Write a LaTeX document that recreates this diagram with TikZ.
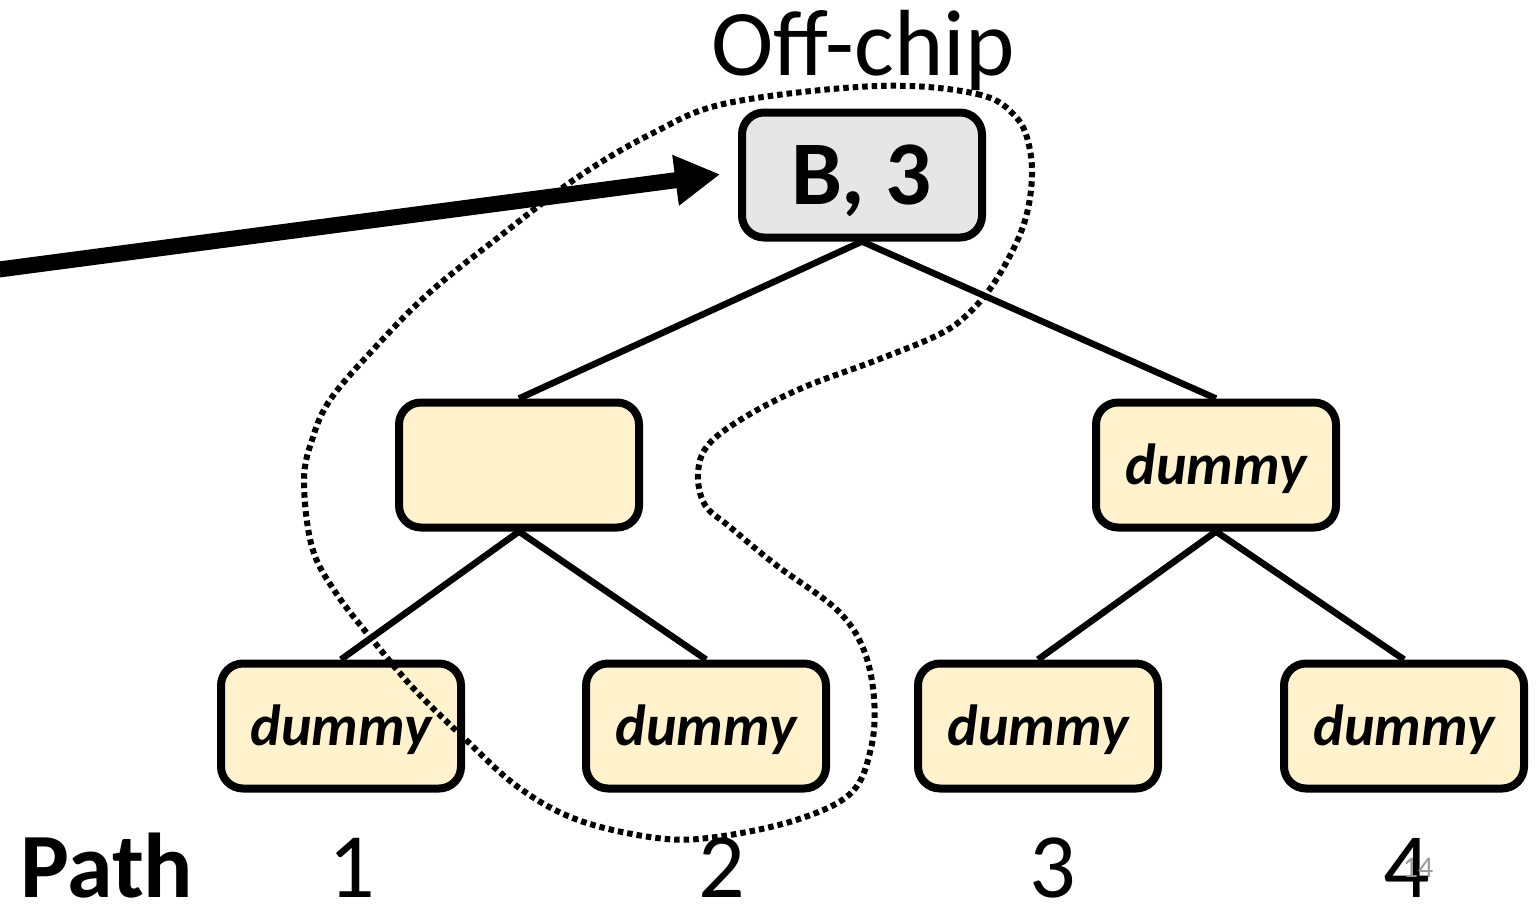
\documentclass[tikz,border=0pt]{standalone}
\usepackage{fontspec}
\setmainfont{Carlito}
\usetikzlibrary{arrows.meta}
\definecolor{rootfill}{HTML}{E6E6E6}
\definecolor{bucketfill}{HTML}{FFF2CC}
\definecolor{pagenum}{HTML}{9A9A9A}
\begin{document}
\begin{tikzpicture}[x=1pt,y=-1pt,
  bucket/.style={draw=black, line width=8pt, rounded corners=22pt, fill=bucketfill,
    minimum width=240pt, minimum height=125pt, inner sep=0pt,
    font=\fontsize{58}{58}\selectfont\bfseries\itshape, text height=38pt, text depth=0pt},
  rootbucket/.style={bucket, fill=rootfill,
    font=\fontsize{91}{91}\selectfont\bfseries, text height=58pt},
  treeedge/.style={line width=6.5pt},
  leaflabel/.style={anchor=base, inner sep=0pt, font=\fontsize{92}{92}\selectfont},
  pathloop/.style={line width=6pt, dash pattern=on 5.5pt off 4pt},
  fetch/.style={line width=16pt, -{Triangle[length=45pt,width=48pt]}, shorten >=18pt}
]
\useasboundingbox (0,0) rectangle (1539,903);

% tree of buckets
\node[rootbucket] (root) at (862,175) {B, 3};
\node[bucket] (midL) at (519,465) {};
\node[bucket] (midR) at (1216,465) {dummy};
\node[bucket] (leaf1) at (341,726) {dummy};
\node[bucket] (leaf2) at (706,726) {dummy};
\node[bucket] (leaf3) at (1038,726) {dummy};
\node[bucket] (leaf4) at (1404,726) {dummy};

\draw[treeedge] (root.south) -- (midL.north);
\draw[treeedge] (root.south) -- (midR.north);
\draw[treeedge] (midL.south) -- (leaf1.north);
\draw[treeedge] (midL.south) -- (leaf2.north);
\draw[treeedge] (midR.south) -- (leaf3.north);
\draw[treeedge] (midR.south) -- (leaf4.north);

% captions
\node[anchor=base, inner sep=0pt, font=\fontsize{94}{94}\selectfont] (offchip) at (863,75) {Off-chip};
\node[leaflabel, anchor=base west, font=\fontsize{92}{92}\selectfont\bfseries] (pathword) at (20,897) {Path};
\node[leaflabel] (p1) at (352,897) {1};
\node[leaflabel] (p2) at (722,897) {2};
\node[leaflabel] (p3) at (1053,897) {3};
\node[leaflabel] (p4) at (1407,897) {4};
\node[anchor=base, inner sep=0pt, text=pagenum, font=\fontsize{30}{30}\selectfont] (slideno) at (1418,877) {14};

% path from the root down to leaf 2
\draw[pathloop] plot[smooth cycle, tension=0.6] coordinates {
  (877,86) (977,94) (1016,117) (1030,150) (1031,190) (1021,232) (996,280)
  (970,312) (940,334) (877,360) (802,388) (745,417) (708,445) (698,474)
  (705,505) (730,527) (776,565) (836,609) (863,648) (874,698) (871,748)
  (851,793) (796,820) (716,837) (657,838) (578,820) (518,787) (463,737)
  (415,690) (375,643) (336,593) (312,547) (304,480) (313,437) (330,400)
  (370,353) (429,293) (504,233) (578,177) (653,133) (728,103)};

% incoming access arrow
\coordinate (src) at (-20,272);
\coordinate (tgt) at ([yshift=3pt]root.west);
\draw[fetch] (src) -- (tgt);
\end{tikzpicture}
\end{document}
